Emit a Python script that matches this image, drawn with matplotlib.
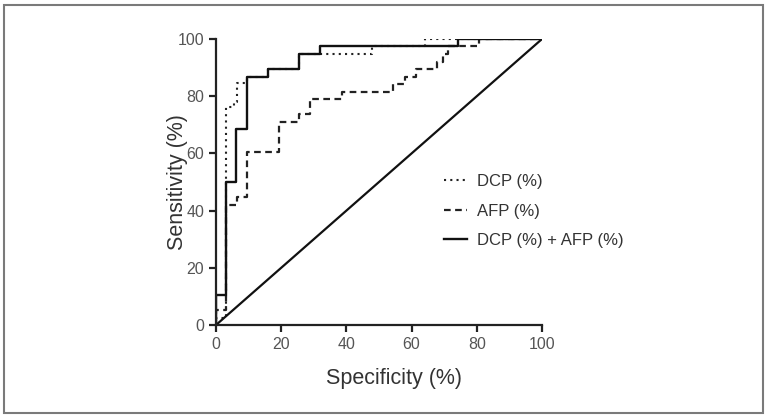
import matplotlib
matplotlib.use("Agg")
from matplotlib import pyplot as plt
from matplotlib.patches import Rectangle

plt.rcParams['font.family'] = ['Liberation Sans', 'DejaVu Sans']

# ROC step curves (x = 100 - specificity, y = sensitivity)
dcp_x = [0, 0, 3.1, 3.1, 5.5, 5.5, 6.3, 6.3, 9.4, 9.4, 16, 16, 25.6, 25.6, 48, 48, 64, 64, 100]
dcp_y = [0, 2.6, 2.6, 76.3, 76.3, 77.8, 77.8, 84.5, 84.5, 86.8, 86.8, 89.5, 89.5, 94.7, 94.7, 97.4, 97.4, 100, 100]

afp_x = [0, 0, 3.1, 3.1, 6.3, 6.3, 9.4, 9.4, 19.4, 19.4, 25.6, 25.6, 28.8, 28.8, 38.5, 38.5,
         54.4, 54.4, 58, 58, 61.5, 61.5, 67.7, 67.7, 69.7, 69.7, 71.2, 71.2, 80.6, 80.6, 100]
afp_y = [0, 5.3, 5.3, 42.1, 42.1, 44.7, 44.7, 60.5, 60.5, 71.1, 71.1, 73.7, 73.7, 78.9, 78.9, 81.6,
         81.6, 84.2, 84.2, 86.8, 86.8, 89.5, 89.5, 92.1, 92.1, 94.7, 94.7, 97.4, 97.4, 100, 100]

comb_x = [0, 0, 3.1, 3.1, 6.2, 6.2, 9.4, 9.4, 16, 16, 25.6, 25.6, 32, 32, 74.3, 74.3, 100]
comb_y = [0, 10.5, 10.5, 50, 50, 68.4, 68.4, 86.8, 86.8, 89.5, 89.5, 94.7, 94.7, 97.4, 97.4, 100, 100]

ref_x = [0, 100]
ref_y = [0, 100]

ticks = [0, 20, 40, 60, 80, 100]

fig = plt.figure(figsize=(7.69, 4.17), dpi=100)
fig.patches.append(Rectangle((4 / 769, 4 / 417), 759 / 769, 408 / 417, transform=fig.transFigure,
                             fill=False, edgecolor="#7a7a7a", linewidth=1.5))
ax = fig.add_axes([216 / 769, 92 / 417, 326 / 769, 286 / 417])

ax.plot(dcp_x, dcp_y, color="#222222", lw=1.5, ls=(0, (1, 2)), label="DCP (%)")
ax.plot(afp_x, afp_y, color="#222222", lw=1.6, ls=(0, (3, 2)), label="AFP (%)")
ax.plot(comb_x, comb_y, color="#111111", lw=1.7, label="DCP (%) + AFP (%)")
ax.plot(ref_x, ref_y, color="#111111", lw=1.6)

ax.set_xlim(0, 100)
ax.set_ylim(0, 100)
ax.set_xticks(ticks)
ax.set_yticks(ticks)
ax.spines["top"].set_visible(False)
ax.spines["right"].set_visible(False)
for s in ["left", "bottom"]:
    ax.spines[s].set_linewidth(1.6)
    ax.spines[s].set_color("#222222")
ax.tick_params(length=5, width=1.6, colors="#222222", labelsize=11.5, labelcolor="#555555")

ax.set_xlabel("Specificity (%)", fontsize=15.5, color="#333333")
ax.set_ylabel("Sensitivity (%)", fontsize=15.5, color="#333333")
ax.xaxis.set_label_coords(0.546, -0.15)
ax.yaxis.set_label_coords(-0.087, 0.5)

ax.legend(loc="upper left", bbox_to_anchor=(0.673, 0.556), frameon=False, fontsize=12,
          handlelength=1.4, handletextpad=0.6, labelspacing=0.86, borderpad=0,
          labelcolor="#333333")

fig.savefig("out.png", dpi=100)
